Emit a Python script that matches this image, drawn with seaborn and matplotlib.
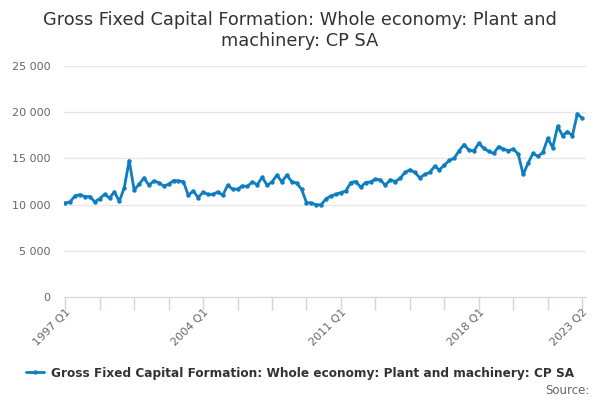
import seaborn as sns
import matplotlib.pyplot as plt
import pandas as pd

# quarterly values, 1997 Q1 .. 2023 Q2 (GBP million)
values = [
    10180, 10300, 10940, 11080, 10870, 10870, 10300, 10650,
    11100, 10720, 11370, 10360, 11840, 14760, 11590, 12200,
    12890, 12090, 12560, 12380, 12020, 12200, 12600, 12560,
    12490, 11010, 11480, 10760, 11340, 11100, 11100, 11380,
    11010, 12100, 11670, 11670, 12030, 11960, 12460, 12140,
    12970, 12100, 12460, 13190, 12460, 13190, 12500, 12320,
    11670, 10220, 10180, 9960, 10000, 10650, 10940, 11120,
    11300, 11480, 12390, 12500, 11880, 12390, 12460, 12750,
    12680, 12100, 12680, 12500, 12830, 13480, 13770, 13480,
    12900, 13260, 13480, 14130, 13770, 14280, 14780, 15030,
    15830, 16500, 15880, 15830, 16630, 16090, 15760, 15540,
    16270, 16010, 15830, 16010, 15470, 13260, 14490, 15540,
    15220, 15650, 17170, 16160, 18480, 17460, 17900, 17460,
    19820, 19350,
]
quarters = [f"{1997 + i // 4} Q{i % 4 + 1}" for i in range(len(values))]
y_ticks = [0, 5000, 10000, 15000, 20000, 25000]
label_quarters = ["1997 Q1", "2004 Q1", "2011 Q1", "2018 Q1", "2023 Q2"]

series_name = "Gross Fixed Capital Formation: Whole economy: Plant and machinery: CP SA"
line_color = "#0f7dc2"
df = pd.DataFrame({"pos": range(len(values)), "quarter": quarters, "value": values})

sns.set_style("white")
plt.rcParams["font.family"] = ["DejaVu Sans"]

fig = plt.figure(figsize=(6, 4), dpi=100)
ax = fig.add_axes([0.107, 0.2575, 0.87, 0.5775])

sns.lineplot(data=df, x="pos", y="value", ax=ax, color=line_color, linewidth=2,
             marker="o", markersize=3.2, markeredgewidth=0, label=series_name)

ax.set_ylim(0, 25000)
ax.set_xlim(-0.2, len(values) - 0.2)
ax.set_yticks(y_ticks)
ax.set_yticklabels([f"{v:,}".replace(",", " ") for v in y_ticks])
ax.yaxis.grid(True, color="#e6e6e6", linewidth=1)
ax.set_axisbelow(True)

minor = list(range(0, len(values), 7))
ax.set_xticks(minor)
ax.set_xticklabels([q if q in label_quarters else "" for q in df["quarter"].iloc[minor]],
                   rotation=45, ha="right", rotation_mode="anchor")
ax.tick_params(axis="x", bottom=True, length=9, width=1, color="#ccd6eb",
               labelsize=8, labelcolor="#666666", pad=-2)
ax.tick_params(axis="y", left=False, length=0, labelsize=8, labelcolor="#666666", pad=10)

for side in ["top", "right", "left"]:
    ax.spines[side].set_visible(False)
ax.spines["bottom"].set_color("#ccd6eb")
ax.set_xlabel("")
ax.set_ylabel("")

fig.suptitle("Gross Fixed Capital Formation: Whole economy: Plant and\nmachinery: CP SA",
             y=0.972, fontsize=12.8, color="#333333", linespacing=1.2)

ax.get_legend().remove()
handles, labels = ax.get_legend_handles_labels()
fig.legend(handles, labels, loc="center", bbox_to_anchor=(0.5, 0.067), frameon=False,
           prop={"weight": "bold", "size": 8.7}, handlelength=1.5,
           handletextpad=0.6, labelcolor="#333333", borderpad=0, borderaxespad=0)

fig.text(0.982, 0.008, "Source:", ha="right", va="bottom", fontsize=8.5, color="#666666")

fig.savefig("out.png", dpi=100)
